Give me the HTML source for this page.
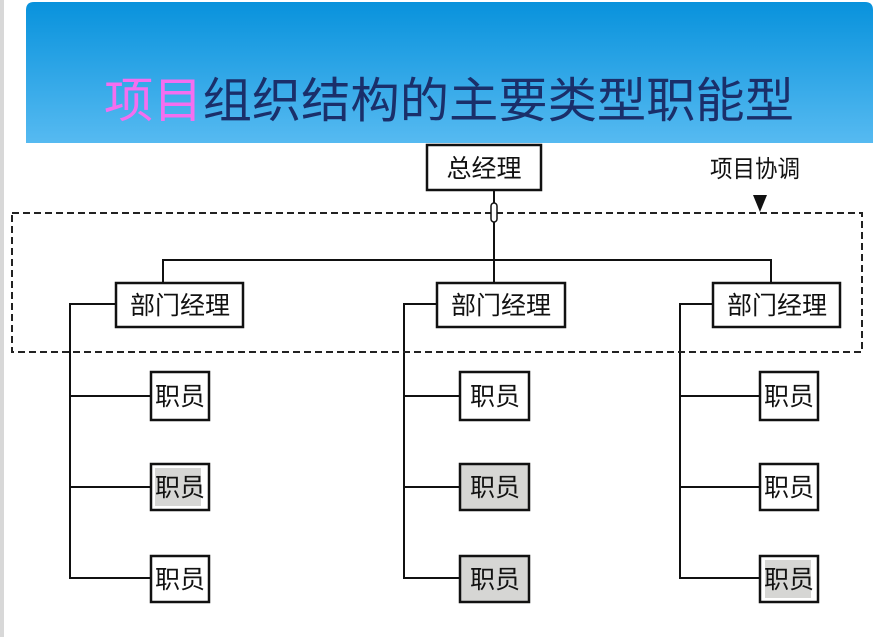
<!DOCTYPE html>
<html><head><meta charset="utf-8"><style>
html,body{margin:0;padding:0;background:#fff;width:891px;height:637px;overflow:hidden}
svg{display:block}
text{font-family:"Liberation Sans","Noto Sans CJK SC","WenQuanYi Zen Hei",sans-serif}
</style></head><body>
<svg width="891" height="637" viewBox="0 0 891 637" xmlns="http://www.w3.org/2000/svg">
<defs><linearGradient id="g" x1="0" y1="0" x2="0" y2="1"><stop offset="0" stop-color="#0892dc"/><stop offset="1" stop-color="#56baf1"/></linearGradient></defs>
<rect x="0" y="0" width="4" height="637" fill="#d8d8d8"/>
<path d="M26 143 V10 Q26 2 34 2 H865 Q873 2 873 10 V143 Z" fill="url(#g)"/>
<text x="104" y="117" font-size="48" fill="#1a2f6a" textLength="690" lengthAdjust="spacingAndGlyphs"><tspan fill="#f46ef0">项目</tspan>组织结构的主要类型职能型</text>
<g stroke="#111" stroke-width="2" fill="none">
<line x1="494" y1="190" x2="494" y2="282"/>
<polyline points="163,282 163,260 771,260 771,282"/>
<polyline points="116,304 70,304 70,578 151,578"/><line x1="70" y1="396" x2="151" y2="396"/><line x1="70" y1="487" x2="151" y2="487"/>
<polyline points="437,304 404,304 404,578 460,578"/><line x1="404" y1="396" x2="460" y2="396"/><line x1="404" y1="487" x2="460" y2="487"/>
<polyline points="713,304 680,304 680,578 760,578"/><line x1="680" y1="396" x2="760" y2="396"/><line x1="680" y1="487" x2="760" y2="487"/>
</g>
<rect x="12" y="213" width="850" height="139" fill="none" stroke="#222" stroke-width="2" stroke-dasharray="7,4"/>
<rect x="491" y="203" width="6" height="19" rx="3" fill="#fff" stroke="#111" stroke-width="1.5"/>
<polygon points="753,195 767,195 760,212" fill="#111"/>
<text x="710" y="177" font-size="24" fill="#111" textLength="90" lengthAdjust="spacingAndGlyphs">项目协调</text>
<g stroke="#111" stroke-width="2.5">
<rect x="427" y="145" width="114" height="45" fill="#fff"/>
<rect x="116" y="283" width="127" height="44" fill="#fff"/>
<rect x="437" y="283" width="128" height="44" fill="#fff"/>
<rect x="713" y="283" width="127" height="44" fill="#fff"/>
<rect x="151" y="372" width="58" height="48" fill="#fff"/>
<rect x="151" y="464" width="58" height="46" fill="#fff"/>
<rect x="151" y="556" width="58" height="46" fill="#fff"/>
<rect x="460" y="372" width="69" height="48" fill="#fff"/>
<rect x="460" y="464" width="69" height="46" fill="#d6d6d4"/>
<rect x="460" y="556" width="69" height="46" fill="#d6d6d4"/>
<rect x="760" y="372" width="58" height="48" fill="#fff"/>
<rect x="760" y="464" width="58" height="46" fill="#fff"/>
<rect x="760" y="556" width="58" height="46" fill="#fff"/>
</g>
<rect x="155" y="468" width="46" height="38" fill="#d6d6d4"/>
<rect x="765" y="560" width="46" height="38" fill="#d6d6d4"/>
<g font-size="25" fill="#111" text-anchor="middle">
<text x="484" y="177">总经理</text>
<text x="180" y="314">部门经理</text>
<text x="501" y="314">部门经理</text>
<text x="777" y="314">部门经理</text>
<text x="180" y="405">职员</text><text x="180" y="496">职员</text><text x="180" y="588">职员</text>
<text x="495" y="405">职员</text><text x="495" y="496">职员</text><text x="495" y="588">职员</text>
<text x="789" y="405">职员</text><text x="789" y="496">职员</text><text x="789" y="588">职员</text>
</g>
</svg>
</body></html>
